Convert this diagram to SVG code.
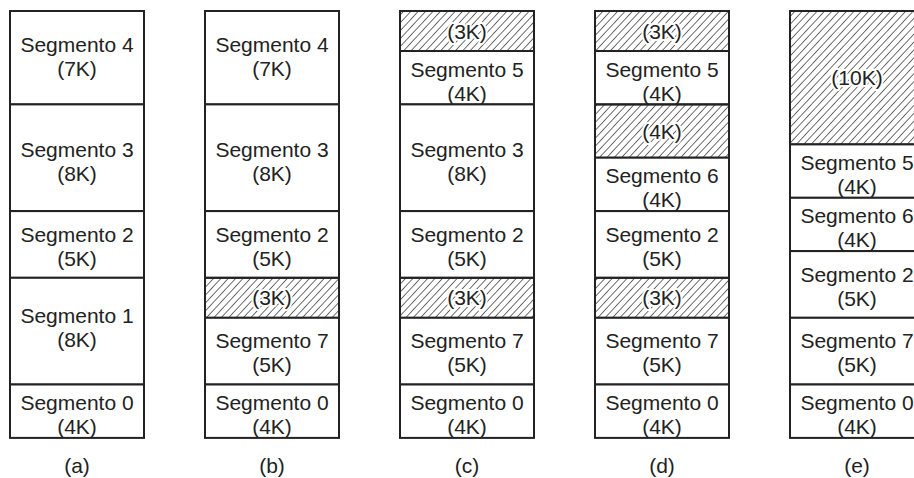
<svg xmlns="http://www.w3.org/2000/svg" width="914" height="478" viewBox="0 0 914 478">
<defs>
<pattern id="hatch" patternUnits="userSpaceOnUse" width="5.4" height="10" patternTransform="rotate(43)">
<line x1="0" y1="0" x2="0" y2="10" stroke="#222" stroke-width="1.3"/>
</pattern>
</defs>
<style>
.seg{fill:#fff;stroke:#222;stroke-width:2}
.hole{fill:url(#hatch);stroke:#222;stroke-width:2}
text{font-family:"Liberation Sans",Arial,sans-serif;font-size:21px;fill:#222;text-anchor:middle}
.ht{stroke:#fff;stroke-width:4;paint-order:stroke;stroke-linejoin:round}
</style>
<rect width="914" height="478" fill="#fff"/>
<g id="col-a">
<g id="a-seg4"><rect class="seg" x="10" y="11" width="134" height="93.4"/><text x="77" y="51.5">Segmento 4</text><text x="77" y="75.5">(7K)</text></g>
<g id="a-seg3"><rect class="seg" x="10" y="104.4" width="134" height="106.7"/><text x="77" y="156.7">Segmento 3</text><text x="77" y="180.7">(8K)</text></g>
<g id="a-seg2"><rect class="seg" x="10" y="211.1" width="134" height="66.7"/><text x="77" y="241.6">Segmento 2</text><text x="77" y="265.6">(5K)</text></g>
<g id="a-seg1"><rect class="seg" x="10" y="277.8" width="134" height="106.7"/><text x="77" y="323.3">Segmento 1</text><text x="77" y="347.3">(8K)</text></g>
<g id="a-seg0"><rect class="seg" x="10" y="384.5" width="134" height="53.4"/><text x="77" y="410">Segmento 0</text><text x="77" y="434">(4K)</text></g>
<text x="77" y="473">(a)</text>
</g>
<g id="col-b">
<g id="b-seg4"><rect class="seg" x="205" y="11" width="134" height="93.4"/><text x="272" y="51.5">Segmento 4</text><text x="272" y="75.5">(7K)</text></g>
<g id="b-seg3"><rect class="seg" x="205" y="104.4" width="134" height="106.7"/><text x="272" y="156.7">Segmento 3</text><text x="272" y="180.7">(8K)</text></g>
<g id="b-seg2"><rect class="seg" x="205" y="211.1" width="134" height="66.7"/><text x="272" y="241.6">Segmento 2</text><text x="272" y="265.6">(5K)</text></g>
<g id="b-hole"><rect class="hole" x="205" y="277.8" width="134" height="40"/><text class="ht" x="272" y="305">(3K)</text></g>
<g id="b-seg7"><rect class="seg" x="205" y="317.8" width="134" height="66.7"/><text x="272" y="348.3">Segmento 7</text><text x="272" y="372.3">(5K)</text></g>
<g id="b-seg0"><rect class="seg" x="205" y="384.5" width="134" height="53.4"/><text x="272" y="410">Segmento 0</text><text x="272" y="434">(4K)</text></g>
<text x="272" y="473">(b)</text>
</g>
<g id="col-c">
<g id="c-hole1"><rect class="hole" x="400" y="11" width="134" height="40"/><text class="ht" x="467" y="38.5">(3K)</text></g>
<g id="c-seg5"><rect class="seg" x="400" y="51" width="134" height="53.4"/><text x="467" y="76.5">Segmento 5</text><text x="467" y="100.5">(4K)</text></g>
<g id="c-seg3"><rect class="seg" x="400" y="104.4" width="134" height="106.7"/><text x="467" y="156.7">Segmento 3</text><text x="467" y="180.7">(8K)</text></g>
<g id="c-seg2"><rect class="seg" x="400" y="211.1" width="134" height="66.7"/><text x="467" y="241.6">Segmento 2</text><text x="467" y="265.6">(5K)</text></g>
<g id="c-hole2"><rect class="hole" x="400" y="277.8" width="134" height="40"/><text class="ht" x="467" y="305">(3K)</text></g>
<g id="c-seg7"><rect class="seg" x="400" y="317.8" width="134" height="66.7"/><text x="467" y="348.3">Segmento 7</text><text x="467" y="372.3">(5K)</text></g>
<g id="c-seg0"><rect class="seg" x="400" y="384.5" width="134" height="53.4"/><text x="467" y="410">Segmento 0</text><text x="467" y="434">(4K)</text></g>
<text x="467" y="473">(c)</text>
</g>
<g id="col-d">
<g id="d-hole1"><rect class="hole" x="595" y="11" width="134" height="40"/><text class="ht" x="662" y="38.5">(3K)</text></g>
<g id="d-seg5"><rect class="seg" x="595" y="51" width="134" height="53.4"/><text x="662" y="76.5">Segmento 5</text><text x="662" y="100.5">(4K)</text></g>
<g id="d-hole2"><rect class="hole" x="595" y="104.4" width="134" height="53.3"/><text class="ht" x="662" y="139">(4K)</text></g>
<g id="d-seg6"><rect class="seg" x="595" y="157.7" width="134" height="53.4"/><text x="662" y="183.2">Segmento 6</text><text x="662" y="207.2">(4K)</text></g>
<g id="d-seg2"><rect class="seg" x="595" y="211.1" width="134" height="66.7"/><text x="662" y="241.6">Segmento 2</text><text x="662" y="265.6">(5K)</text></g>
<g id="d-hole3"><rect class="hole" x="595" y="277.8" width="134" height="40"/><text class="ht" x="662" y="305">(3K)</text></g>
<g id="d-seg7"><rect class="seg" x="595" y="317.8" width="134" height="66.7"/><text x="662" y="348.3">Segmento 7</text><text x="662" y="372.3">(5K)</text></g>
<g id="d-seg0"><rect class="seg" x="595" y="384.5" width="134" height="53.4"/><text x="662" y="410">Segmento 0</text><text x="662" y="434">(4K)</text></g>
<text x="662" y="473">(d)</text>
</g>
<g id="col-e">
<g id="e-hole"><rect class="hole" x="790" y="11" width="134" height="133.4"/><text class="ht" x="857" y="85">(10K)</text></g>
<g id="e-seg5"><rect class="seg" x="790" y="144.4" width="134" height="53.4"/><text x="857" y="170">Segmento 5</text><text x="857" y="194">(4K)</text></g>
<g id="e-seg6"><rect class="seg" x="790" y="197.8" width="134" height="53.3"/><text x="857" y="223.3">Segmento 6</text><text x="857" y="247.3">(4K)</text></g>
<g id="e-seg2"><rect class="seg" x="790" y="251.1" width="134" height="66.7"/><text x="857" y="281.6">Segmento 2</text><text x="857" y="305.6">(5K)</text></g>
<g id="e-seg7"><rect class="seg" x="790" y="317.8" width="134" height="66.7"/><text x="857" y="348.3">Segmento 7</text><text x="857" y="372.3">(5K)</text></g>
<g id="e-seg0"><rect class="seg" x="790" y="384.5" width="134" height="53.4"/><text x="857" y="410">Segmento 0</text><text x="857" y="434">(4K)</text></g>
<text x="857" y="473">(e)</text>
</g>
<g id="connectors"/>
</svg>
